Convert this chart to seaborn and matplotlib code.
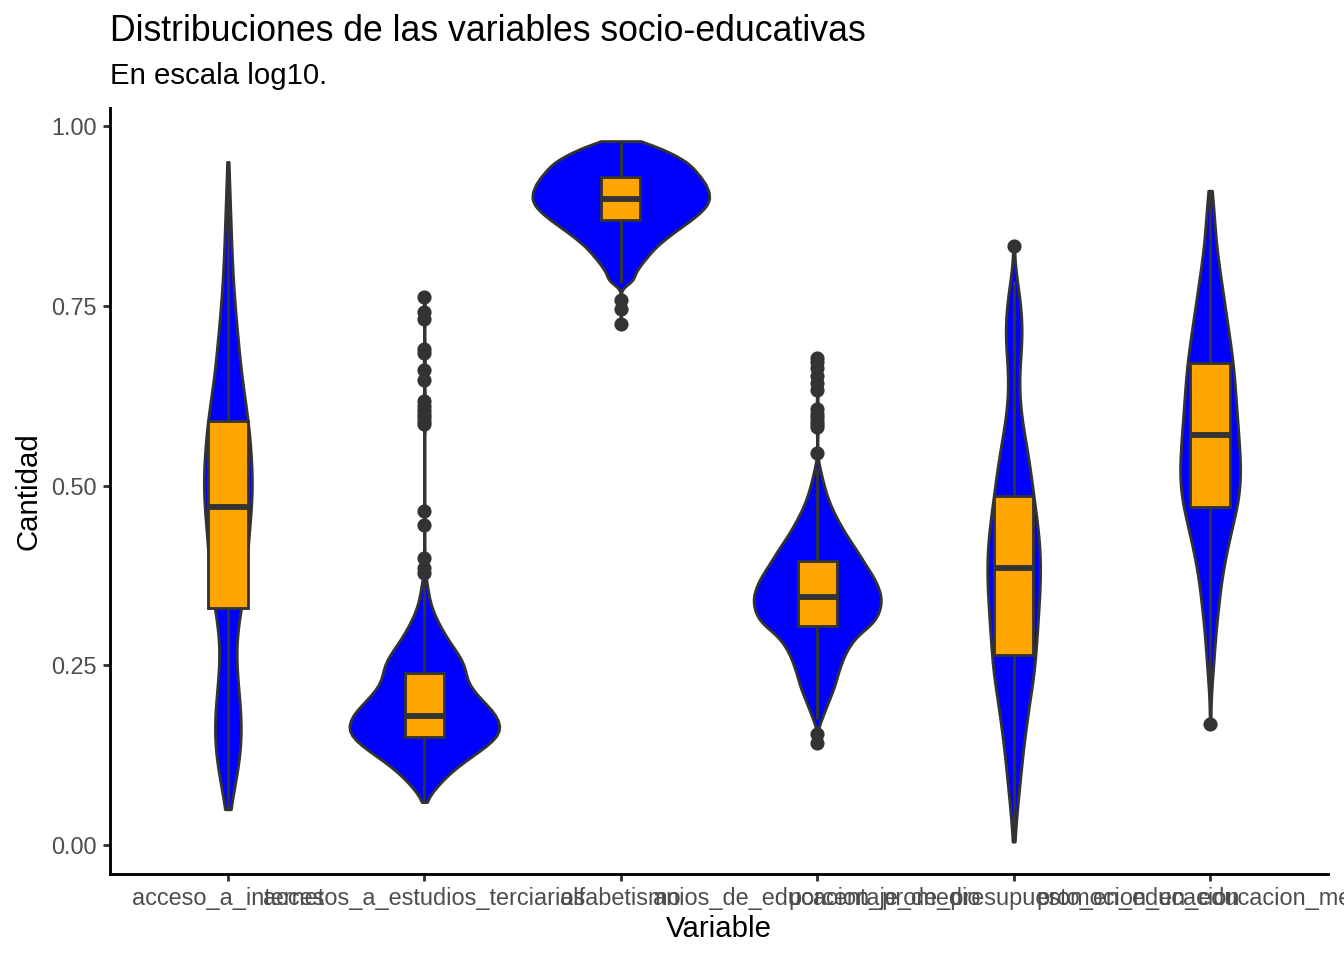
import numpy as np
import pandas as pd
import matplotlib
matplotlib.use("Agg")
import matplotlib.pyplot as plt
import seaborn as sns

plt.rcParams["font.family"] = ["Liberation Sans", "DejaVu Sans"]

# ---------------- data ----------------
variables = ["acceso_a_internet", "accesos_a_estudios_terciarios", "alfabetismo",
             "anios_de_educacion_promedio", "porcentaje_de_presupuesto_en_educacion",
             "promocion_en_educacion_media"]

# Each variable: observed values and how many observations have each value,
# plus individual outlying observations.
internet_values = [0.05, 0.07, 0.09, 0.11, 0.13, 0.15, 0.17, 0.19, 0.21, 0.23,
                   0.25, 0.27, 0.29, 0.31, 0.33, 0.35, 0.37, 0.39, 0.41, 0.43,
                   0.45, 0.47, 0.49, 0.51, 0.53, 0.55, 0.57, 0.59, 0.61, 0.63,
                   0.65, 0.67, 0.69, 0.71, 0.73, 0.75, 0.77, 0.79, 0.81, 0.83,
                   0.85, 0.87, 0.89, 0.91, 0.93, 0.95]
internet_counts = [2, 5, 8, 11, 13, 14, 14, 13, 11, 10,
                   8, 8, 8, 10, 14, 16, 18, 19, 20, 21,
                   22, 24, 25, 25, 24, 23, 22, 21, 18, 16,
                   14, 12, 11, 10, 8, 7, 6, 5, 4, 4,
                   3, 3, 2, 2, 1, 1]
internet_outliers = []

terciarios_values = [0.06, 0.07, 0.08, 0.09, 0.10, 0.11, 0.12, 0.13, 0.14, 0.15,
                     0.16, 0.17, 0.18, 0.19, 0.20, 0.21, 0.22, 0.23, 0.24, 0.25,
                     0.26, 0.27, 0.28, 0.29, 0.30, 0.31, 0.32, 0.33, 0.34, 0.35, 0.36]
terciarios_counts = [1, 5, 11, 17, 24, 32, 42, 52, 62, 70,
                     75, 72, 70, 64, 56, 50, 44, 40, 40, 39,
                     35, 31, 25, 21, 17, 13, 10, 7, 5, 4, 3]
terciarios_outliers = [0.368, 0.379, 0.386, 0.400, 0.445, 0.465, 0.586, 0.590,
                       0.596, 0.600, 0.605, 0.610, 0.618, 0.647, 0.661, 0.685,
                       0.690, 0.731, 0.741, 0.762]

alfabetismo_values = [0.782, 0.789, 0.799, 0.809, 0.819, 0.829, 0.839, 0.849,
                      0.859, 0.869, 0.879, 0.889, 0.899, 0.909, 0.919, 0.929,
                      0.939, 0.949, 0.959, 0.969, 0.979]
alfabetismo_counts = [7, 12, 16, 21, 27, 33, 41, 50, 60, 70, 79, 86, 89, 88,
                      85, 80, 74, 67, 55, 40, 20]
alfabetismo_outliers = [0.725, 0.745, 0.758]

anios_values = [0.175, 0.185, 0.195, 0.205, 0.215, 0.225, 0.235, 0.245, 0.255,
                0.265, 0.275, 0.285, 0.295, 0.305, 0.315, 0.325, 0.335, 0.345,
                0.355, 0.365, 0.375, 0.385, 0.395, 0.405, 0.415, 0.425, 0.435,
                0.445, 0.455, 0.465, 0.475, 0.485, 0.495, 0.505, 0.515, 0.525]
anios_counts = [5, 7, 10, 13, 16, 19, 20, 23, 25, 28, 32, 37, 42, 56, 61, 64,
                66, 66, 64, 61, 57, 52, 47, 43, 38, 33, 28, 24, 20, 16, 13, 10,
                8, 6, 4, 3]
anios_outliers = [0.142, 0.155, 0.545, 0.581, 0.585, 0.590, 0.596, 0.600, 0.607,
                  0.633, 0.642, 0.652, 0.663, 0.672, 0.678]

presupuesto_values = [0.005, 0.025, 0.045, 0.065, 0.085, 0.105, 0.125, 0.145,
                      0.165, 0.185, 0.205, 0.225, 0.245, 0.265, 0.285, 0.305,
                      0.325, 0.345, 0.365, 0.385, 0.405, 0.425, 0.445, 0.465,
                      0.485, 0.505, 0.525, 0.545, 0.565, 0.585, 0.605, 0.625,
                      0.645, 0.665, 0.685, 0.705, 0.725, 0.745, 0.765, 0.785]
presupuesto_counts = [1, 2, 3, 5, 6, 8, 9, 11, 13, 15, 17, 20, 22, 23, 24, 25,
                      26, 27, 28, 28, 28, 27, 25, 23, 21, 19, 17, 15, 12, 9,
                      7, 6, 5, 6, 8, 9, 9, 8, 6, 4]
presupuesto_outliers = [0.833]

promocion_values = [0.21, 0.23, 0.25, 0.27, 0.29, 0.31, 0.33, 0.35, 0.37, 0.39,
                    0.41, 0.43, 0.45, 0.47, 0.49, 0.51, 0.53, 0.55, 0.57, 0.59,
                    0.61, 0.63, 0.65, 0.67, 0.69, 0.71, 0.73, 0.75, 0.77, 0.79,
                    0.81, 0.83, 0.85, 0.87, 0.89, 0.91]
promocion_counts = [1, 2, 3, 4, 5, 6, 8, 9, 11, 13, 16, 19, 22, 26, 28, 29, 29,
                    28, 27, 26, 25, 24, 23, 22, 20, 18, 16, 14, 12, 10, 8, 6,
                    5, 4, 3, 2]
promocion_outliers = [0.168]

tables = [
    (internet_values, internet_counts, internet_outliers),
    (terciarios_values, terciarios_counts, terciarios_outliers),
    (alfabetismo_values, alfabetismo_counts, alfabetismo_outliers),
    (anios_values, anios_counts, anios_outliers),
    (presupuesto_values, presupuesto_counts, presupuesto_outliers),
    (promocion_values, promocion_counts, promocion_outliers),
]

frames = []
for name, (vals, cnts, outs) in zip(variables, tables):
    v = np.concatenate([np.repeat(vals, cnts), np.asarray(outs, dtype=float)])
    frames.append(pd.DataFrame({"Variable": name, "Cantidad": v}))
df = pd.concat(frames, ignore_index=True)

y_ticks = [0.00, 0.25, 0.50, 0.75, 1.00]
y_ticklabels = ["0.00", "0.25", "0.50", "0.75", "1.00"]

# ---------------- figure ----------------
W, H = 1344, 960
fig = plt.figure(figsize=(7, 5), dpi=192)
ax = fig.add_axes([110 / W, 1 - 874 / H, (1328 - 110) / W, (874 - 108) / H])

dark = "#333333"
lw = 1.07

sns.violinplot(data=df, x="Variable", y="Cantidad", order=variables,
               color="blue", saturation=1, inner=None, cut=0,
               density_norm="area", width=0.9, bw_adjust=0.55,
               linewidth=lw, linecolor=dark, ax=ax)

sns.boxplot(data=df, x="Variable", y="Cantidad", order=variables,
            color="orange", saturation=1, width=0.2, linewidth=lw,
            linecolor=dark, showcaps=False, fliersize=4.3,
            flierprops=dict(marker="o", markerfacecolor=dark,
                            markeredgecolor=dark),
            medianprops=dict(linewidth=2.2, color=dark), ax=ax)

ax.set_xlim(-0.6, 5.6)
ax.set_ylim(-0.04, 1.025)
ax.set_yticks(y_ticks)
ax.set_yticklabels(y_ticklabels)

for s in ["top", "right"]:
    ax.spines[s].set_visible(False)
for s in ["left", "bottom"]:
    ax.spines[s].set_linewidth(lw)
    ax.spines[s].set_color("black")

ax.tick_params(axis="both", colors=dark, length=2.75, width=lw,
               labelsize=8.8, labelcolor="#4D4D4D", pad=2.2)

ax.set_xlabel("Variable", fontsize=11, color="black")
ax.set_ylabel("Cantidad", fontsize=11, color="black")
ax.xaxis.set_label_coords(0.5, (874 - 929) / (874 - 108))
ax.xaxis.label.set_va("center")
ax.yaxis.set_label_coords((28 - 110) / (1328 - 110), 0.5)
ax.yaxis.label.set_va("center")

fig.text(110 / W, 1 - 41 / H, "Distribuciones de las variables socio-educativas",
         fontsize=13.35, ha="left", va="baseline", color="black")
fig.text(110 / W, 1 - 84 / H, "En escala log10.",
         fontsize=11, ha="left", va="baseline", color="black")

fig.savefig("out.png", dpi=192)
